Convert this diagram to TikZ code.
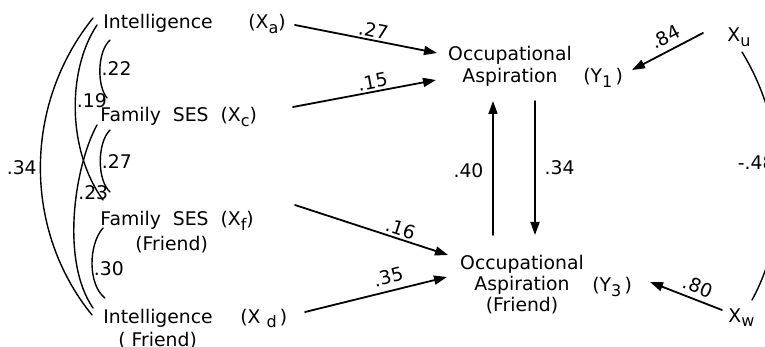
\documentclass[tikz,border=0pt]{standalone}
\usepackage{fontspec}
\setmainfont{DejaVu Sans}
\usetikzlibrary{arrows.meta}

\newcommand{\lowidx}[1]{\raisebox{-0.45ex}{\fontsize{8}{8}\selectfont #1}}

\tikzset{
  varbox/.style={inner sep=0pt, text height=7pt, text depth=2pt, anchor=base west},
  occbox/.style={inner sep=0pt, align=center, anchor=north},
  effect/.style={line width=0.9pt, ->},
  corr/.style={line width=0.7pt},
  coef/.style={sloped, above, inner sep=1pt},
  rcoef/.style={inner sep=0.5pt}
}

\begin{document}
\begin{tikzpicture}[x=0.5pt,y=-0.5pt,font=\fontsize{9.4}{11}\selectfont,
    line cap=round,line join=round,>={Triangle[length=6.5pt,width=4.5pt]}]
    \clip (0,0) rectangle (765,347);

    % exogenous variables
    \node[varbox] (ia) at (103,29) {Intelligence};
    \node[varbox] (xa) at (248,29) {(X\lowidx{a})};
    \node[varbox] (fc) at (100,122) {Family\ \ SES\ \ (X\lowidx{c})};
    \node[varbox] (ff) at (100,226) {Family\ \ SES\ \ (X\lowidx{f})};
    \node[varbox] (ffr) at (135,250) {(Friend)};
    \node[varbox] (id) at (103,323) {Intelligence};
    \node[varbox] (xd) at (240,323) {(X\ \lowidx{d}\,)};
    \node[varbox] (idr) at (118,346) {( Friend)};

    % aspirations
    \node[occbox] (occ1) at (510,46) {Occupational\\Aspiration};
    \node[varbox] (y1) at (583,83) {(Y\lowidx{1}\,)};
    \node[occbox,font=\fontsize{9.4}{10.5}\selectfont] (occ2) at (522,255) {Occupational\\Aspiration\\(Friend)};
    \node[varbox] (y3) at (592,292) {(Y\lowidx{3}\,)};

    % residuals
    \node[varbox] (xu) at (727,42) {X\lowidx{u}};
    \node[varbox] (xw) at (728,322) {X\lowidx{w}};

    % paths
    \draw[effect] ([shift={(47,-4)}]xa.base west) -- ([shift={(-73,7)}]occ1.north)
        node[coef,pos=0.54] {.27};
    \draw[effect] ([shift={(193,-15)}]fc.base west) -- ([shift={(-74,34)}]occ1.north)
        node[coef,pos=0.57] {.15};
    \draw[effect] ([shift={(195,-21)}]ff.base west) -- ([shift={(-74,0)}]occ2.north)
        node[coef,pos=0.67] {.16};
    \draw[effect] ([shift={(65,-11)}]xd.base west) -- ([shift={(-75,22)}]occ2.north)
        node[coef,pos=0.61,inner sep=3pt] {.35};
    \draw[effect] ([shift={(-17,-20)}]occ1.south |- occ2.north) -- ([shift={(-17,14)}]occ1.south)
        node[pos=0.48,left=1pt] {.40};
    \draw[effect] ([shift={(25,14)}]occ1.south) -- ([shift={(25,-20)}]occ1.south |- occ2.north)
        node[pos=0.5,right=1pt] {.34};
    \draw[effect,<-] ([shift={(49,-13)}]y1.base west) -- ([shift={(-24,-9)}]xu.base west)
        node[coef,pos=0.56,inner sep=3pt] {.84};
    \draw[effect,<-] ([shift={(58,-10)}]y3.base west) -- ([shift={(-6,-12)}]xw.base west)
        node[coef,pos=0.6,inner sep=2.5pt] {.80};

    % correlations
    \draw[corr] ([shift={(7,11)}]ia.base west) .. controls +(-13,12) and +(-10,-12) ..
        ([shift={(7,-24)}]fc.base west) node[rcoef,pos=0.5,right=0pt] {.22};
    \draw[corr] ([shift={(10,8)}]fc.base west) .. controls +(-13,13) and +(-13,-12) ..
        ([shift={(10,-34)}]ff.base west) node[rcoef,pos=0.5,right=0pt] {.27};
    \draw[corr] ([shift={(3,2)}]ff.base west) .. controls +(-15,17) and +(-17,-13) ..
        ([shift={(2,-25)}]id.base west) node[rcoef,pos=0.55,right=0pt] {.30};
    \draw[corr] ([shift={(-6,-4)}]ia.base west) .. controls +(-30,45) and +(-36,-50) ..
        ([shift={(3,-26)}]ff.base west) node[rcoef,pos=0.45,right=0pt] {.19};
    \draw[corr] ([shift={(-3,3)}]fc.base west) .. controls +(-22,40) and +(-33,-48) ..
        ([shift={(-10,-15)}]id.base west) node[rcoef,pos=0.4,right=0pt] {.23};
    \draw[corr] ([shift={(-10,-11)}]ia.base west) .. controls +(-70,87) and +(-69,-85) ..
        ([shift={(-11,-8)}]id.base west) node[rcoef,pos=0.5,left=1pt] {.34};
    \draw[corr] ([shift={(15,10)}]xu.base west) .. controls +(45,73) and +(40,-73) ..
        ([shift={(24,-22)}]xw.base west) node[pos=0.45,left=-2pt] {-.48};
\end{tikzpicture}
\end{document}
